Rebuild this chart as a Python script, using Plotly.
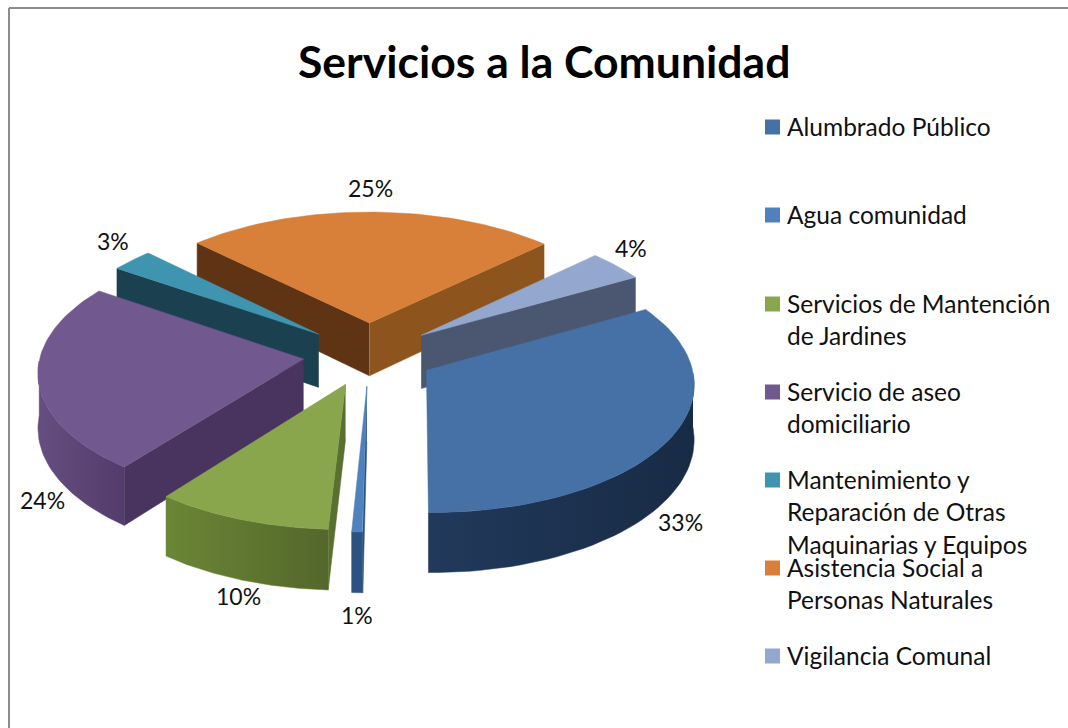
import numpy as np
import plotly.graph_objects as go

# datos
categorias = ["Alumbrado Público", "Agua comunidad", "Servicios de Mantención de Jardines",
              "Servicio de aseo domiciliario", "Mantenimiento y Reparación de Otras Maquinarias y Equipos",
              "Asistencia Social a Personas Naturales", "Vigilancia Comunal"]
valores = [33.4, 0.6, 9.7, 24.0, 2.9, 25.4, 4.0]
titulo = "Servicios a la Comunidad"

# leyenda, linea por linea
lineas_leyenda = [["Alumbrado Público"], ["Agua comunidad"], ["Servicios de Mantención", "de Jardines"],
                  ["Servicio de aseo", "domiciliario"], ["Mantenimiento y", "Reparación de Otras", "Maquinarias y Equipos"],
                  ["Asistencia Social a", "Personas Naturales"], ["Vigilancia Comunal"]]
y_leyenda = [127, 215, 304, 392, 480, 568, 656]

# colores: cara superior, pared radial inicial, pared radial final, pared exterior (izq, der)
c_top = ["#4571A6", "#4F81BD", "#8AA64C", "#71588F", "#3F95B0", "#D8803A", "#93A7CF"]
c_ini = ["#1C3450", "#2C5282", "#5A7030", "#49345F", "#1B4050", "#5E3414", "#4B5670"]
c_fin = ["#2A4D78", "#2C5282", "#5A7030", "#49345F", "#1B4050", "#8E541E", "#4B5670"]
c_ext = [("#21395B", "#182B45"), ("#2C5282", "#2C5282"), ("#6B8636", "#53672B"),
         ("#664E80", "#533B6C"), ("#1B4050", "#1B4050"), ("#8E541E", "#8E541E"), ("#4B5670", "#4B5670")]

# posicion de las etiquetas de porcentaje
pos_etiquetas = [(680, 522), (357, 615), (238, 596), (42, 500), (113, 241), (370, 188), (631, 248)]

# proyeccion de la torta
CX, CY = 369, 354
R = 263
EXPLOSION = 66
K = 0.48
P = 0.09
ALTO = 54
INICIO = 60.5


def proyectar(X, Y, z=0.0):
    s = 1 / (1 - P * np.asarray(Y) / 263)
    return CX + np.asarray(X) * s, CY + K * np.asarray(Y) * s + z * s


def punto(a, r):
    return r * np.sin(np.radians(a)), -r * np.cos(np.radians(a))


fig = go.Figure()


def poligono(xs, ys, color, gradiente=None):
    kw = dict(fillcolor=color)
    if gradiente:
        kw = dict(fillgradient=dict(type="horizontal", colorscale=[[0, gradiente[0]], [1, gradiente[1]]]))
    fig.add_trace(go.Scatter(x=xs, y=ys, mode="lines", fill="toself", line=dict(width=0.5, color=color),
                             hoverinfo="skip", showlegend=False, **kw))


acum = INICIO + np.cumsum([0] + valores) * 3.6
# de atras hacia adelante
orden = [5, 6, 4, 3, 2, 1, 0]
for i in orden:
    a0, a1 = acum[i], acum[i + 1]
    med = (a0 + a1) / 2
    ox, oy = punto(med, EXPLOSION)
    ang = np.linspace(a0, a1, 60)
    ax, ay = punto(ang, R)
    ax, ay = ax + ox, ay + oy

    # pared exterior, solo la parte que mira al frente
    vis = -np.cos(np.radians(ang)) > 0
    if vis.any():
        xt, yt = proyectar(ax[vis], ay[vis])
        xb, yb = proyectar(ax[vis], ay[vis], ALTO)
        poligono(np.r_[xt, xb[::-1]], np.r_[yt, yb[::-1]], c_ext[i][0], c_ext[i])

    # paredes radiales
    for a, col, normal in ((a0, c_ini[i], a0 - 90), (a1, c_fin[i], a1 + 90)):
        if -np.cos(np.radians(normal)) > 0:
            px, py = punto(a, R)
            x1, y1 = proyectar(ox, oy)
            x2, y2 = proyectar(px + ox, py + oy)
            x3, y3 = proyectar(px + ox, py + oy, ALTO)
            x4, y4 = proyectar(ox, oy, ALTO)
            poligono([x1, x2, x3, x4], [y1, y2, y3, y4], col)

    # cara superior
    xt, yt = proyectar(np.r_[ox, ax], np.r_[oy, ay])
    poligono(np.r_[xt, xt[0]], np.r_[yt, yt[0]], c_top[i])

# cuadros de la leyenda
fig.add_trace(go.Scatter(x=[772.5] * len(categorias), y=y_leyenda, mode="markers", hoverinfo="skip", showlegend=False,
                         marker=dict(symbol="square", size=15, color=c_top, line=dict(width=0))))

for (x, y), v in zip(pos_etiquetas, valores):
    fig.add_annotation(x=x, y=y, text=f"{v:.0f}%", showarrow=False, font=dict(size=23, color="#111111", family="Lato"))

for lineas, y0 in zip(lineas_leyenda, y_leyenda):
    for j, linea in enumerate(lineas):
        fig.add_annotation(x=785, y=y0 + j * 32.5 - 1, text=linea, showarrow=False, xanchor="left",
                           font=dict(size=24.5, color="#111111", family="Lato"))

fig.add_annotation(x=544, y=60, text=f"<b>{titulo}</b>", showarrow=False,
                   font=dict(size=44.5, color="#000000", family="Lato"))

# marco del grafico, solo se ve arriba y a la izquierda
fig.add_shape(type="line", x0=9, x1=9, y0=8, y1=728, line=dict(color="#8C8C8C", width=2), layer="below")
fig.add_shape(type="line", x0=9, x1=1068, y0=8, y1=8, line=dict(color="#8C8C8C", width=2), layer="below")

fig.update_layout(
    width=1068, height=728, margin=dict(l=0, r=0, t=0, b=0),
    paper_bgcolor="white", plot_bgcolor="white", showlegend=False,
    xaxis=dict(range=[0, 1068], visible=False, fixedrange=True),
    yaxis=dict(range=[728, 0], visible=False, fixedrange=True),
)

fig.write_html("out.html", config=dict(displayModeBar=False),
               post_script="document.body.style.margin='0';document.body.style.overflow='hidden';")
